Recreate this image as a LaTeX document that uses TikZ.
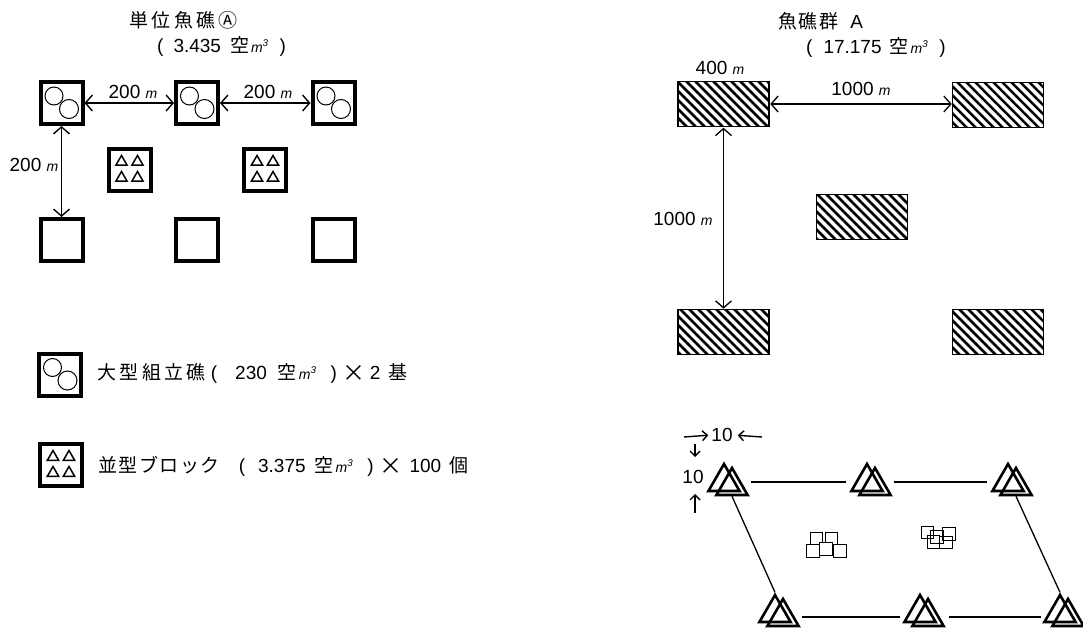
\documentclass[tikz,border=0pt]{standalone}
\usepackage{fontspec}
\setmainfont{Liberation Sans}
\newfontfamily\cjk[LetterSpace=18]{Noto Sans CJK JP}
\newfontfamily\cjkn[LetterSpace=8]{Noto Sans CJK JP}
\usetikzlibrary{arrows.meta,shapes.geometric,patterns.meta}
\newcommand{\mtr}{{\fontsize{14}{14}\selectfont\itshape m}}
\newcommand{\kum}{{\cjkn 空}\hspace{2pt}{\fontsize{14}{14}\selectfont\itshape m\textsuperscript{3}}}
\newcommand{\tms}{\raisebox{-2pt}{\fontsize{23}{23}\selectfont\cjkn ×}}
\tikzset{
  >={Straight Barb[length=7pt,width=16pt]},
  lbl/.style={inner sep=0pt,font=\fontsize{19}{21}\selectfont},
  reefbox/.style={draw,line width=4pt,minimum size=42pt,inner sep=0pt},
  hatchbox/.style={draw,line width=1.6pt,minimum width=91pt,minimum height=45pt,inner sep=0pt,
    pattern={Lines[angle=-45,distance=6.364pt,line width=2.5pt]}},
  bigtri/.style={draw,line width=2.6pt,regular polygon,regular polygon sides=3,minimum size=36pt,inner sep=0pt},
  marktri/.style={draw,line width=1.5pt,regular polygon,regular polygon sides=3,minimum size=13pt,inner sep=0pt},
  smallbox/.style={draw,line width=1.2pt,minimum size=12.5pt,inner sep=0pt,fill=white},
  seebox/.style={draw,line width=1.2pt,minimum size=12.5pt,inner sep=0pt}
}
\begin{document}
\begin{tikzpicture}[x=1pt,y=-1pt]
  \useasboundingbox (0,0) rectangle (1083,628);

  \node[lbl,anchor=west] (titleA) at (129,20) {\cjk 単位魚礁Ⓐ};
  \node[lbl,anchor=west] (volA) at (157,46) {(\hspace{10pt}3.435\hspace{9pt}\kum\hspace{11pt})};
  \node[lbl,anchor=west] (titleB) at (778,21) {{\cjkn 魚礁群}\hspace{12pt}A};
  \node[lbl,anchor=west] (volB) at (806,47) {(\hspace{11pt}17.175\hspace{8pt}\kum\hspace{11pt})};

  \foreach \n/\x/\y in {a/61.5/103, b/197/103, c/333.5/103, d/61.5/240, e/197/240, f/333.5/240}
    \node[reefbox] (\n) at (\x,\y) {};
  \node[reefbox] (p) at (129.5,170) {};
  \node[reefbox] (q) at (265,170) {};
  \node[reefbox] (lgA) at (60,374.5) {};
  \node[reefbox] (lgB) at (61,465) {};

  \foreach \n in {a,b,c,lgA} {
    \draw[line width=1pt] ([shift={(-7.5,-7)}]\n.center) circle (9pt);
    \draw[line width=1pt] ([shift={(7.5,6)}]\n.center) circle (9.5pt);
  }
  \foreach \n in {p,q,lgB}
    \foreach \dx/\dy [count=\i] in {-8/-8, 8/-8, -8/8, 8/8}
      \node[marktri] (\n\i) at ([shift={(\dx,\dy)}]\n.center) {};

  \draw[<->,line width=1.4pt] (a.east) -- (b.west);
  \draw[<->,line width=1.4pt] (b.east) -- (c.west);
  \draw[<->,line width=1.4pt] (a.south) -- (d.north);
  \node[lbl] (ab) at (133,92) {200 \mtr};
  \node[lbl] (bc) at (268,92) {200 \mtr};
  \node[lbl] (ad) at (34,165) {200 \mtr};

  \node[lbl,anchor=west] (txtA) at (97,373) {{\cjk 大型組立礁}\hspace{5pt}(\hspace{18pt}230\hspace{11pt}\kum\hspace{14pt})\hspace{6pt}\tms\hspace{4pt}2\hspace{8pt}{\cjk 基}};
  \node[lbl,anchor=west] (txtB) at (98,466) {{\cjkn 並型ブロック}\hspace{19pt}(\hspace{13pt}3.375\hspace{9pt}\kum\hspace{14pt})\hspace{6pt}\tms\hspace{7pt}100\hspace{8pt}{\cjk 個}};

  \foreach \n/\x/\y in {ra/723.5/104, rb/998/105, rc/862/217, rd/723.5/332, re/998/332}
    \node[hatchbox] (\n) at (\x,\y) {};
  \node[lbl] (width) at (720,68) {400 \mtr};
  \node[lbl] (rab) at (861,89) {1000 \mtr};
  \node[lbl] (rad) at (683,219) {1000 \mtr};
  \draw[<->,line width=1.3pt] (ra.east) -- (ra.east -| rb.west);
  \draw[<->,line width=1.3pt] (ra.south) -- (rd.north);

  \foreach \n/\x/\y in {tl/724/482, tm/867/482, tr/1008/482, bl/775/613, bm/920/613, br/1060/613} {
    \node[bigtri] (\n1) at (\x,\y) {};
    \node[bigtri] (\n2) at (\x+8,\y+4) {};
  }
  \draw[line width=1.3pt,shorten <=7pt,shorten >=9pt] (tl1.east -| tl2.east) -- (tm1.west);
  \draw[line width=1.3pt,shorten <=7pt,shorten >=9pt] (tm1.east -| tm2.east) -- (tr1.west);
  \draw[line width=1.3pt,shorten <=7pt,shorten >=8pt] (bl2.east) -- (bl2.east -| bm1.west);
  \draw[line width=1.3pt,shorten <=9pt,shorten >=7pt] (bm2.east) -- (bm2.east -| br1.west);
  \draw[line width=1.3pt] (tl2.south) -- (bl1.north);
  \draw[line width=1.3pt] (tr2.south) -- (br1.north);

  \foreach \x/\y [count=\i] in {816.5/538.5, 831.5/538.5, 813/551, 840/551, 826/549}
    \node[smallbox] (s\i) at (\x,\y) {};
  \foreach \x/\y [count=\i] in {927.5/532.5, 949/534, 937/537, 933.5/542, 946/542.5}
    \node[seebox] (t\i) at (\x,\y) {};

  \node[lbl] (tenA) at (722,435) {10};
  \node[lbl] (tenB) at (693,477) {10};
  \coordinate (ha) at (684,437);
  \coordinate (hb) at (762,437);
  \coordinate (va) at (695,444);
  \coordinate (vb) at (695,457);
  \coordinate (vc) at (695,513);
  \coordinate (vd) at (695,494);
  \tikzset{>={Straight Barb[length=5pt,width=10pt]}}
  \draw[->,line width=1.4pt,shorten >=3pt] (ha) -- (tenA.west);
  \draw[->,line width=1.4pt,shorten >=5pt] (hb) -- (tenA.east);
  \draw[->,line width=1.4pt] (va) -- (vb);
  \draw[->,line width=1.4pt] (vc) -- (vd);
\end{tikzpicture}
\end{document}
